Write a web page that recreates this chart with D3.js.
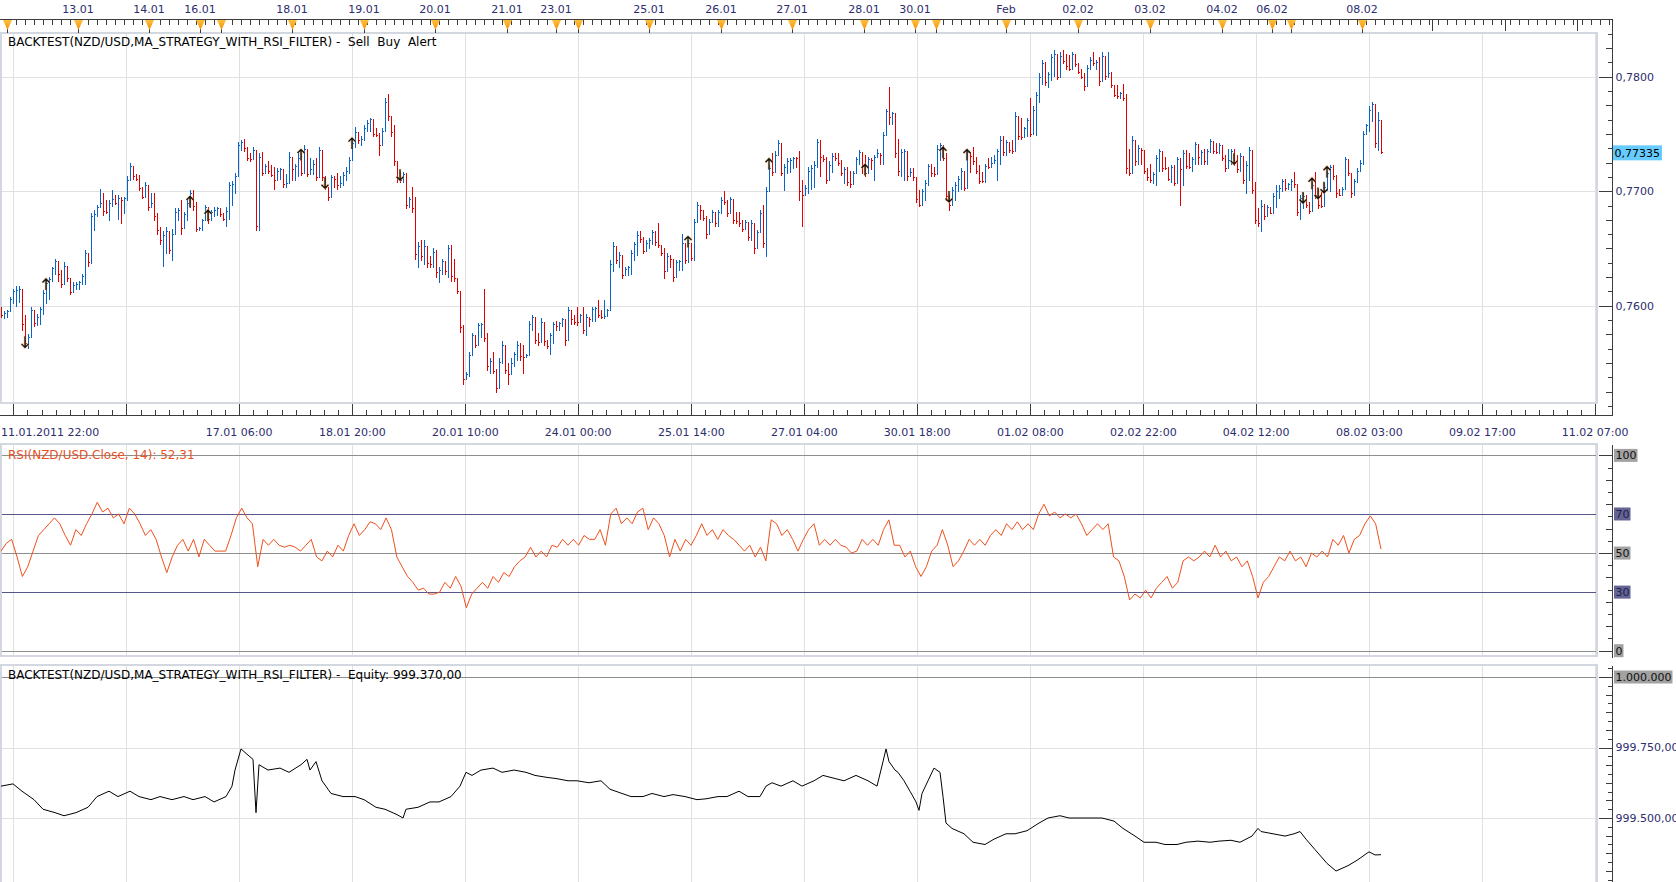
<!DOCTYPE html>
<html>
<head>
<meta charset="utf-8">
<script src="https://cdn.jsdelivr.net/npm/d3@7"></script>
<style>
body { margin: 0; background: #fff; overflow: hidden; }
svg { display: block; font-family: "DejaVu Sans", Verdana, sans-serif; font-size: 11px; }
</style>
</head>
<body>
<script>
var width = 1676;
var height = 882;

// hourly NZD/USD bars: [high, low, close] in pips above 0.7500 (open = previous close)
var firstOpen = 99;
var bars = [
[99,90,92],[95,89,94],[96,90,95],[108,98,106],[115,102,113],[117,100,114],[117,103,115],[110,79,84],[92,64,67],[75,63,73],
[99,73,96],[93,82,85],[93,83,90],[99,84,97],[114,93,111],[122,102,120],[125,106,123],[134,122,133],[141,128,139],[137,122,128],
[131,116,119],[138,124,135],[131,122,124],[124,110,112],[121,114,118],[121,115,119],[122,115,121],[128,119,126],[149,119,146],[143,135,138],
[181,137,178],[184,166,180],[188,178,186],[202,186,190],[198,179,183],[192,181,182],[192,175,190],[201,187,193],[197,189,190],[197,176,194],
[195,172,192],[195,181,194],[213,192,210],[225,210,222],[217,211,213],[215,210,211],[214,201,203],[204,194,195],[208,195,205],[198,184,186],
[198,189,190],[198,175,178],[181,163,166],[169,154,157],[165,135,162],[169,146,165],[163,146,149],[167,140,163],[185,163,182],[185,175,184],
[192,163,168],[182,169,180],[192,175,190],[201,186,198],[201,184,187],[191,165,167],[169,166,168],[176,166,175],[188,175,186],[186,172,176],
[184,175,182],[186,178,184],[186,179,185],[185,178,180],[181,175,176],[186,170,183],[208,176,205],[209,188,206],[216,198,213],[243,213,240],
[245,236,243],[246,235,238],[239,227,229],[233,226,228],[239,229,236],[236,166,170],[233,166,230],[234,214,216],[224,217,222],[226,216,218],
[223,213,214],[221,202,210],[220,211,218],[220,211,219],[218,204,206],[215,204,207],[234,213,230],[221,210,219],[224,210,222],[233,213,229],
[233,214,216],[240,227,237],[229,213,215],[229,217,219],[227,215,224],[229,210,212],[239,221,236],[227,210,212],[213,202,204],[204,192,195],
[214,204,212],[213,204,211],[216,202,205],[213,204,207],[217,205,214],[221,210,218],[230,216,227],[245,230,242],[256,239,252],[250,242,245],
[248,240,246],[258,245,255],[262,253,260],[264,253,263],[262,248,250],[255,248,249],[251,232,240],[255,246,253],[281,253,278],[285,262,266],
[265,248,252],[258,223,226],[223,208,212],[217,208,210],[217,208,215],[216,185,188],[195,186,193],[204,182,185],[195,141,145],[156,134,152],
[157,140,143],[157,136,152],[143,134,137],[143,134,136],[150,134,147],[149,125,129],[134,121,131],[141,128,139],[134,128,130],[153,125,150],
[153,122,126],[141,122,124],[124,111,113],[112,77,81],[83,32,36],[42,36,40],[60,39,57],[76,57,74],[72,64,66],[85,67,83],
[85,73,84],[115,69,72],[76,44,47],[54,41,52],[60,41,43],[45,25,28],[54,37,51],[69,50,66],[58,41,44],[50,32,40],
[54,40,50],[60,47,58],[69,53,66],[67,53,56],[66,41,55],[58,55,57],[87,58,84],[92,79,90],[85,67,70],[76,66,68],
[89,70,86],[76,66,69],[70,63,65],[76,58,74],[86,67,84],[87,79,82],[86,79,85],[89,82,88],[84,66,70],[99,84,96],
[92,84,88],[92,84,86],[99,83,86],[93,86,92],[99,76,79],[93,74,90],[90,82,88],[99,87,97],[99,87,98],[105,90,92],
[96,89,90],[105,89,91],[97,94,96],[140,96,136],[156,130,152],[146,137,140],[147,134,144],[138,124,127],[134,127,132],[135,127,134],
[149,128,146],[156,140,154],[165,144,162],[165,156,158],[160,146,148],[157,152,155],[159,150,157],[166,154,164],[165,153,156],[172,151,153],
[153,144,146],[150,124,130],[146,131,143],[144,134,141],[137,122,125],[140,131,138],[140,131,139],[163,131,155],[155,137,140],[157,138,155],
[155,140,142],[176,140,173],[191,175,188],[186,176,184],[181,175,177],[178,159,163],[176,163,173],[184,175,182],[181,170,172],[184,170,182],
[195,181,192],[200,189,191],[192,178,181],[195,181,193],[192,172,175],[182,172,174],[182,170,172],[175,165,167],[175,168,173],[172,157,160],
[175,157,172],[166,146,150],[166,155,164],[184,167,181],[188,151,155],[204,143,200],[223,205,220],[233,214,217],[235,217,232],[245,233,242],
[233,214,216],[224,201,221],[229,216,226],[229,217,227],[230,220,229],[230,221,229],[235,192,200],[210,170,197],[205,197,203],[221,198,218],
[223,202,220],[226,204,223],[246,221,243],[245,213,230],[232,226,228],[230,207,210],[226,213,223],[233,217,231],[233,227,229],[233,223,225],
[227,214,216],[221,207,219],[221,205,208],[218,204,206],[218,210,216],[230,218,228],[236,224,234],[234,216,222],[232,213,216],[230,224,228],
[229,219,227],[232,210,230],[237,232,233],[233,224,232],[252,224,249],[272,252,270],[291,259,265],[269,259,268],[264,230,233],[246,214,218],
[237,213,234],[237,210,235],[234,210,213],[220,216,217],[220,210,212],[204,191,193],[201,187,188],[202,189,200],[210,192,207],[224,205,222],
[224,213,216],[221,213,215],[240,217,237],[242,227,240],[240,227,229],[233,192,196],[197,184,188],[204,191,201],[208,192,205],[213,200,211],
[220,202,218],[218,201,203],[237,210,234],[233,217,231],[239,224,226],[230,216,218],[223,207,209],[217,208,209],[224,208,222],[229,220,221],
[230,221,225],[232,226,227],[237,210,235],[248,224,245],[248,232,234],[245,232,243],[242,234,236],[245,233,235],[269,237,266],[265,246,248],
[264,246,247],[256,249,255],[264,248,262],[281,248,250],[274,255,271],[287,249,284],[303,278,300],[315,294,312],[313,293,295],[304,291,302],
[320,297,317],[323,301,320],[315,298,300],[322,303,318],[323,312,314],[320,307,309],[319,306,307],[322,310,320],[320,309,311],[312,303,304],
[307,299,300],[303,288,292],[310,294,308],[317,307,315],[322,310,312],[315,307,313],[317,293,296],[322,306,318],[316,298,301],[322,300,303],
[304,291,293],[293,283,284],[293,281,283],[287,281,286],[294,280,281],[285,216,220],[237,214,216],[248,230,245],[245,223,226],[240,224,238],
[237,224,236],[232,216,218],[220,210,212],[224,208,210],[217,207,215],[232,205,229],[237,218,235],[232,218,220],[230,219,220],[221,210,211],
[223,208,221],[223,205,207],[230,210,228],[229,188,219],[236,205,233],[236,220,222],[233,220,221],[230,218,228],[243,224,241],[232,224,230],
[236,224,234],[237,224,226],[237,224,235],[246,234,244],[242,233,235],[242,233,234],[242,233,240],[239,227,229],[232,218,220],[237,224,227],
[237,224,235],[237,223,225],[232,217,219],[233,218,231],[230,207,210],[226,198,223],[239,210,236],[227,198,201],[208,172,175],[185,170,172],
[192,165,187],[189,176,178],[188,179,186],[183,181,181],[198,181,196],[205,186,200],[205,194,203],[211,200,209],[211,201,203],[207,202,206],
[211,201,209],[217,204,206],[204,179,182],[197,176,194],[198,185,196],[197,186,188],[191,181,183],[208,185,205],[217,194,197],[202,185,188],
[199,186,187],[207,188,204],[218,201,216],[223,200,221],[223,211,213],[214,195,198],[202,197,197],[204,198,202],[230,214,228],[224,214,216],
[216,195,198],[211,197,209],[220,208,218],[227,218,225],[253,224,250],[259,253,258],[274,253,271],[278,261,276],[271,239,242],[269,236,262],
[256,233,234]
];

// strategy signals: [bar, pips]
var buySignals = [[15,119],[63,191],[69,179],[100,232],[117,242],[229,156],[256,224],[288,219],[314,234],[322,232],[437,207],[442,217]];
var sellSignals = [[8,68],[108,207],[133,214],[316,195],[411,228],[434,194],[439,198],[441,203]];

// RSI(14), sampled evenly over the bar range
var rsiValues = [
51,55,57,48,38,43,51,59,62,65, 68,65,59,54,62,59,65,70,76,71, 73,68,70,65,73,70,65,59,62,57,
48,40,48,54,57,51,57,48,57,54, 51,51,51,59,68,73,68,65,43,57, 54,57,54,53,54,53,51,54,57,48,
46,51,48,54,51,59,65,59,62,66, 65,62,68,62,48,43,38,35,31,32, 29,29,30,35,32,38,33,22,29,32,
35,32,38,35,40,38,43,46,48,53, 48,51,48,54,53,57,54,57,54,59, 57,57,62,54,70,73,65,68,65,71,
73,62,68,65,59,48,57,51,57,54, 59,65,59,62,57,62,59,57,54,51, 54,48,53,46,67,65,59,62,57,51,
57,62,65,54,57,54,57,54,53,50, 51,57,54,57,54,62,67,54,54,48, 51,43,38,43,51,54,62,54,43,46,
51,57,54,57,54,59,62,59,65,62, 66,62,65,62,70,75,69,71,68,70, 68,70,65,59,62,65,62,65,48,46,
38,26,29,27,31,27,32,35,38,32, 35,46,48,46,48,51,48,54,48,51, 46,48,43,46,38,27,35,38,43,48,
46,51,46,48,43,50,48,51,48,57, 54,59,50,57,59,65,69,65,52
];

// equity: [bar, value]
var equitySeries = [
[0,999613],[4,999621],[7,999595],[11,999565],[14,999531],[18,999519],[21,999508],[25,999519],[29,999538],[32,999576],
[36,999595],[39,999576],[43,999595],[46,999576],[50,999565],[53,999576],[57,999565],[61,999576],[64,999565],[68,999576],
[71,999557],[75,999576],[77,999613],[78,999670],[80,999745],[82,999726],[84,999708],[85,999519],[86,999689],[89,999670],
[93,999677],[96,999662],[100,999689],[102,999708],[103,999670],[105,999700],[107,999632],[109,999602],[110,999587],[114,999576],
[118,999576],[121,999565],[125,999538],[128,999531],[132,999512],[134,999500],[135,999531],[139,999538],[143,999557],[146,999557],
[150,999576],[153,999613],[155,999662],[157,999651],[160,999670],[164,999677],[167,999662],[171,999670],[175,999662],[178,999651],
[182,999644],[185,999640],[189,999632],[192,999632],[196,999625],[200,999632],[203,999602],[207,999587],[210,999576],[214,999576],
[217,999587],[221,999576],[224,999583],[228,999576],[232,999565],[235,999568],[239,999576],[242,999576],[246,999595],[249,999576],
[253,999576],[255,999613],[257,999625],[260,999613],[264,999632],[267,999613],[271,999632],[274,999651],[278,999640],[281,999632],
[285,999651],[289,999632],[292,999613],[294,999700],[295,999745],[296,999700],[298,999670],[299,999662],[301,999632],[303,999595],
[305,999557],[306,999527],[307,999587],[309,999632],[311,999677],[313,999662],[314,999576],[315,999482],[317,999463],[321,999444],
[324,999414],[328,999406],[331,999425],[335,999444],[338,999444],[342,999455],[346,999482],[349,999500],[353,999508],[356,999500],
[360,999500],[363,999500],[367,999500],[371,999489],[374,999463],[378,999436],[381,999414],[385,999414],[388,999406],[392,999406],
[395,999414],[399,999418],[403,999414],[406,999418],[410,999421],[413,999414],[417,999436],[419,999463],[420,999452],[424,999444],
[428,999436],[431,999444],[433,999452],[435,999425],[438,999388],[442,999339],[445,999312],[449,999331],[452,999350],[456,999380],
[458,999369],[460,999370]
];

// time axis (bar positions)
var timeTickBars = [4.1, 41.8, 79.4, 117.1, 154.8, 192.4, 230.1, 267.8, 305.4, 343.1, 380.8, 418.4, 456.1, 493.8, 531.4];
var timeTickLabels = ["11.01.2011 22:00", "", "17.01 06:00", "18.01 20:00", "20.01 10:00", "24.01 00:00", "25.01 14:00",
  "27.01 04:00", "30.01 18:00", "01.02 08:00", "02.02 22:00", "04.02 12:00", "08.02 03:00", "09.02 17:00", "11.02 07:00"];
var dayBars = [2, 25.7, 49.3, 66.3, 73.3, 97, 121, 144.7, 168.7, 185, 192.3, 216, 240, 263.7, 287.7, 304.7, 311.7, 335, 359, 383, 407, 423.7, 430, 453.7];
var dayLabels = ["", "13.01", "14.01", "16.01", "", "18.01", "19.01", "20.01", "21.01", "23.01", "", "25.01", "26.01",
  "27.01", "28.01", "30.01", "", "Feb", "02.02", "03.02", "04.02", "06.02", "", "08.02"];
var futureDayBars = [477, 501.3, 525.3];

var priceTicks = [0.76, 0.77, 0.78];
var rsiLevels = [100, 70, 50, 30, 0];
var rsiLevelLabels = ["100", "70", "50", "30", "0"];
var equityTicks = [999500, 999750];
var equityStart = 1000000;
var lastPrice = 0.77335;
var lastRsi = 52.31;
var lastEquity = 999370;

var titleText = "BACKTEST(NZD/USD,MA_STRATEGY_WITH_RSI_FILTER) - ";

var loc = d3.formatLocale({decimal: ",", thousands: ".", grouping: [3], currency: ["", ""]});
var fmtPrice = loc.format(".4f"), fmtLast = loc.format(".5f"), fmtEq = loc.format(",.2f"),
    fmtEq0 = loc.format(",.0f"), fmtRsi = loc.format(".2f");

var svg = d3.select("body").append("svg").attr("width", width).attr("height", height);

var x = d3.scaleLinear().domain([0, 460]).range([1, 1381]);
var yP = d3.scaleLinear().domain([0.76, 0.78]).range([305.7, 76.7]);
var yR = d3.scaleLinear().domain([0, 100]).range([650.7, 455.4]);
var yE = d3.scaleLinear().domain([999500, 1000000]).range([818, 677]);
function pip(p) { return 0.75 + p / 10000; }

var plotRight = 1597, axisX = 1612.5;
var navy = "#2d2d6e", grid = "#e0e0e0", border = "#d3d7df", axisCol = "#3c3c3c";
var panels = [[33, 403], [444, 656], [665, 895]];

var crisp = svg.append("g").attr("shape-rendering", "crispEdges");

// gridlines
panels.forEach(function(p) {
  crisp.selectAll(null).data(timeTickBars).enter().append("line")
    .attr("x1", function(d) { return Math.round(x(d)) + 0.5; })
    .attr("x2", function(d) { return Math.round(x(d)) + 0.5; })
    .attr("y1", p[0]).attr("y2", p[1])
    .attr("stroke", grid).attr("stroke-width", 1.3);
});
crisp.selectAll(null).data(priceTicks).enter().append("line")
  .attr("x1", 0).attr("x2", plotRight)
  .attr("y1", function(d) { return Math.round(yP(d)) + 0.5; })
  .attr("y2", function(d) { return Math.round(yP(d)) + 0.5; })
  .attr("stroke", grid).attr("stroke-width", 1.3);
crisp.selectAll(null).data(equityTicks).enter().append("line")
  .attr("x1", 0).attr("x2", plotRight)
  .attr("y1", function(d) { return Math.round(yE(d)) + 0.5; })
  .attr("y2", function(d) { return Math.round(yE(d)) + 0.5; })
  .attr("stroke", grid).attr("stroke-width", 1.3);

// RSI levels
crisp.selectAll(null).data(rsiLevels).enter().append("line")
  .attr("x1", 0).attr("x2", plotRight)
  .attr("y1", function(d) { return Math.round(yR(d)) + 0.5; })
  .attr("y2", function(d) { return Math.round(yR(d)) + 0.5; })
  .attr("stroke", function(d) { return d === 70 || d === 30 ? "#56568a" : "#8e8e8e"; });
crisp.append("line").attr("x1", 0).attr("x2", plotRight)
  .attr("y1", Math.round(yE(equityStart)) + 0.5).attr("y2", Math.round(yE(equityStart)) + 0.5)
  .attr("stroke", "#8e8e8e");

// panel frames
panels.forEach(function(p) {
  crisp.append("rect").attr("x", 0.5).attr("y", p[0]).attr("width", plotRight - 0.5).attr("height", p[1] - p[0])
    .attr("fill", "none").attr("stroke", border).attr("stroke-width", 2.5);
});

// price bars
var opens = bars.map(function(b, i) { return i === 0 ? firstOpen : bars[i - 1][2]; });
crisp.append("g").selectAll("path").data(bars).enter().append("path")
  .attr("fill", "none")
  .attr("stroke", function(b, i) { return b[2] > opens[i] ? "#0a64c8" : "#e30000"; })
  .attr("d", function(b, i) {
    var o = opens[i];
    var hi = Math.max(b[0], o, b[2]), lo = Math.min(b[1], o, b[2]);
    var cx = Math.round(x(i)) + 0.5;
    var yo = Math.round(yP(pip(o))) + 0.5, yc = Math.round(yP(pip(b[2]))) + 0.5;
    return "M" + cx + "," + Math.round(yP(pip(hi))) + "V" + (Math.round(yP(pip(lo))) + 1) +
      "M" + (cx - 1) + "," + yo + "H" + cx + "M" + cx + "," + yc + "H" + (cx + 1);
  });

// signals
function arrowPath(cx, cy, up) {
  var s = up ? -1 : 1;
  return "M" + cx + "," + (cy - 6 * s) + "V" + (cy + 5 * s) +
    "M" + (cx - 3.5) + "," + (cy + 1.5 * s) + "L" + cx + "," + (cy + 5 * s) + "L" + (cx + 3.5) + "," + (cy + 1.5 * s);
}
var sig = svg.append("g").attr("fill", "none");
[[buySignals, true], [sellSignals, false]].forEach(function(set) {
  sig.selectAll(null).data(set[0]).enter().append("path")
    .attr("d", function(d) { return arrowPath(x(d[0]), yP(pip(d[1])), set[1]); })
    .attr("stroke", "#f2b45a").attr("stroke-width", 3).attr("opacity", 0.45);
  sig.selectAll(null).data(set[0]).enter().append("path")
    .attr("d", function(d) { return arrowPath(x(d[0]), yP(pip(d[1])), set[1]); })
    .attr("stroke", "#111").attr("stroke-width", 1.3);
});

// RSI line
var xr = d3.scaleLinear().domain([0, rsiValues.length - 1]).range([x(0), x(bars.length - 1)]);
svg.append("path").datum(rsiValues)
  .attr("fill", "none").attr("stroke", "#f0501c").attr("stroke-width", 1)
  .attr("d", d3.line().x(function(d, i) { return xr(i); }).y(function(d) { return yR(d); }));

// equity line
svg.append("path").datum(equitySeries)
  .attr("fill", "none").attr("stroke", "#000").attr("stroke-width", 1)
  .attr("d", d3.line().x(function(d) { return x(d[0]); }).y(function(d) { return yE(d[1]); }));

// top date axis
crisp.append("line").attr("x1", 0).attr("x2", axisX).attr("y1", 19.5).attr("y2", 19.5).attr("stroke", axisCol);
crisp.selectAll(null).data(d3.range(2, 538, 3)).enter().append("line")
  .attr("x1", function(d) { return Math.round(x(d)) + 0.5; })
  .attr("x2", function(d) { return Math.round(x(d)) + 0.5; })
  .attr("y1", 19.5).attr("y2", 24.5).attr("stroke", axisCol);
crisp.selectAll(null).data(dayBars).enter().append("line")
  .attr("x1", function(d) { return Math.round(x(d)) + 0.5; })
  .attr("x2", function(d) { return Math.round(x(d)) + 0.5; })
  .attr("y1", 19.5).attr("y2", 33).attr("stroke", axisCol);
crisp.selectAll(null).data(futureDayBars).enter().append("line")
  .attr("x1", function(d) { return Math.round(x(d)) + 0.5; })
  .attr("x2", function(d) { return Math.round(x(d)) + 0.5; })
  .attr("y1", 19.5).attr("y2", 31).attr("stroke", axisCol);
crisp.append("line").attr("x1", axisX).attr("x2", axisX).attr("y1", 19.5).attr("y2", 416).attr("stroke", axisCol);

var grad = svg.append("defs").append("linearGradient").attr("id", "tri").attr("x1", 0).attr("x2", 0).attr("y1", 0).attr("y2", 1);
grad.append("stop").attr("offset", "0").attr("stop-color", "#ffbf40");
grad.append("stop").attr("offset", "1").attr("stop-color", "#f39200");
svg.append("g").selectAll("path").data(dayBars).enter().append("path")
  .attr("d", function(d) { var cx = Math.round(x(d)) + 0.5; return "M" + (cx - 4.5) + ",20L" + (cx + 4.5) + ",20L" + cx + ",30Z"; })
  .attr("fill", "url(#tri)");
svg.append("g").selectAll("text").data(dayBars).enter().append("text")
  .attr("x", function(d) { return x(d); }).attr("y", 13)
  .attr("text-anchor", "middle").attr("fill", navy)
  .text(function(d, i) { return dayLabels[i]; });

// bottom time axis
crisp.append("line").attr("x1", 0).attr("x2", axisX).attr("y1", 415.5).attr("y2", 415.5).attr("stroke", axisCol);
var minorBars = [];
timeTickBars.forEach(function(t, k) {
  if (k === 0) return;
  var a = timeTickBars[k - 1];
  d3.range(1, 8).forEach(function(m) { minorBars.push(a + (t - a) * m / 8); });
});
crisp.selectAll(null).data(minorBars).enter().append("line")
  .attr("x1", function(d) { return Math.round(x(d)) + 0.5; })
  .attr("x2", function(d) { return Math.round(x(d)) + 0.5; })
  .attr("y1", 410).attr("y2", 415.5).attr("stroke", axisCol);
crisp.selectAll(null).data(timeTickBars).enter().append("line")
  .attr("x1", function(d) { return Math.round(x(d)) + 0.5; })
  .attr("x2", function(d) { return Math.round(x(d)) + 0.5; })
  .attr("y1", 404).attr("y2", 415.5).attr("stroke", axisCol);
svg.append("g").selectAll("text").data(timeTickBars).enter().append("text")
  .attr("x", function(d, i) { return i === 0 ? 1 : x(d); }).attr("y", 436)
  .attr("text-anchor", function(d, i) { return i === 0 ? "start" : "middle"; })
  .attr("fill", navy)
  .text(function(d, i) { return timeTickLabels[i]; });

// right value axes
function rightAxis(y0, y1, values, scale, majorEvery) {
  crisp.append("line").attr("x1", axisX).attr("x2", axisX).attr("y1", y0).attr("y2", y1).attr("stroke", axisCol);
  crisp.selectAll(null).data(values).enter().append("line")
    .attr("x1", function(d, i) { return axisX - (d.n % majorEvery === 0 ? 14 : (d.n % 2 === 0 ? 7 : 4.5)); })
    .attr("x2", axisX)
    .attr("y1", function(d) { return Math.round(scale(d.v)) + 0.5; })
    .attr("y2", function(d) { return Math.round(scale(d.v)) + 0.5; })
    .attr("stroke", axisCol);
}
rightAxis(19.5, 416, d3.range(1, 28).map(function(n) { return {n: n, v: 0.75 + 0.00125 * n}; }), yP, 8);
rightAxis(445, 658, d3.range(0, 17).map(function(n) { return {n: n, v: 6.25 * n}; }), yR, 8);
rightAxis(666, height, d3.range(-7, 18).map(function(n) { return {n: n + 8, v: 999500 + 31.25 * n}; }), yE, 8);

svg.append("g").selectAll("text").data(priceTicks).enter().append("text")
  .attr("x", 1615.5).attr("y", function(d) { return yP(d); }).attr("dy", "0.36em")
  .attr("fill", navy).text(function(d) { return fmtPrice(d); });
svg.append("rect").attr("x", 1613).attr("y", yP(lastPrice) - 7.5).attr("width", 49).attr("height", 15).attr("fill", "#66ccff");
svg.append("text").attr("x", 1614.5).attr("y", yP(lastPrice)).attr("dy", "0.36em").attr("fill", "#000").text(fmtLast(lastPrice));

// RSI level labels
var rl = svg.append("g");
rsiLevels.forEach(function(v, i) {
  var purple = v === 70 || v === 30;
  var t = rl.append("text").attr("x", 1615.5).attr("y", yR(v)).attr("dy", "0.36em")
    .attr("fill", purple ? "#1e1e4e" : "#111").text(rsiLevelLabels[i]);
  var w = t.node().getComputedTextLength();
  rl.insert("rect", "text").attr("x", 1614).attr("y", yR(v) - 6.5).attr("width", w + 2.5).attr("height", 13)
    .attr("fill", purple ? "#646494" : "#a2a2a2");
});

// equity labels
var el = svg.append("g");
var et = el.append("text").attr("x", 1615.5).attr("y", yE(equityStart)).attr("dy", "0.36em").attr("fill", "#111").text(fmtEq0(equityStart));
el.insert("rect", "text").attr("x", 1614).attr("y", yE(equityStart) - 6.5)
  .attr("width", et.node().getComputedTextLength() + 2.5).attr("height", 13).attr("fill", "#a2a2a2");
svg.append("g").selectAll("text").data(equityTicks).enter().append("text")
  .attr("x", 1615.5).attr("y", function(d) { return yE(d); }).attr("dy", "0.36em")
  .attr("fill", navy).text(function(d) { return fmtEq(d); });

// panel titles
svg.append("text").attr("x", 8).attr("y", 46).attr("fill", "#000").style("white-space", "pre").style("font-size", "12px")
  .text(titleText + " Sell  Buy  Alert");
svg.append("text").attr("x", 8).attr("y", 459).attr("fill", "#e8501e").style("white-space", "pre").style("font-size", "12px")
  .text("RSI(NZD/USD.Close, 14): " + fmtRsi(lastRsi));
svg.append("text").attr("x", 8).attr("y", 679).attr("fill", "#000").style("white-space", "pre").style("font-size", "12px")
  .text(titleText + " Equity: " + fmtEq(lastEquity));
</script>
</body>
</html>
